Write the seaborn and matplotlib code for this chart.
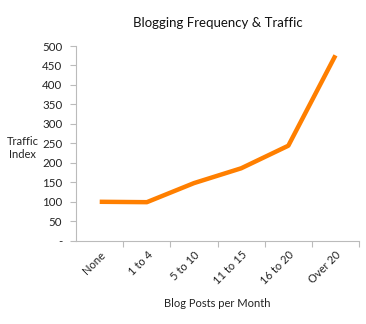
import matplotlib
matplotlib.use("Agg")
import matplotlib.pyplot as plt
from matplotlib.ticker import FixedLocator, FuncFormatter
import seaborn as sns
import pandas as pd

categories = ["None", "1 to 4", "5 to 10", "11 to 15", "16 to 20", "Over 20"]
traffic = [100, 99, 148, 186, 244, 476]
y_ticks = [0, 50, 100, 150, 200, 250, 300, 350, 400, 450, 500]

sns.set_theme(style="white")
plt.rcParams["font.family"] = ["Lato", "DejaVu Sans"]

df = pd.DataFrame({"posts": categories, "traffic": traffic})

fig = plt.figure(figsize=(3.66, 3.24), dpi=100)
ax = fig.add_axes([0.208, 0.257, 0.773, 0.601])

sns.lineplot(data=df, x="posts", y="traffic", ax=ax, color="#FF7F00",
             linewidth=3.2, sort=False, solid_capstyle="butt")

ax.set_xlim(-0.5, len(categories) - 0.5)
ax.set_ylim(0, 500)
ax.set_yticks(y_ticks)
ax.yaxis.set_major_formatter(FuncFormatter(lambda v, p: "-" if v == 0 else f"{int(v)}"))

ax.set_xticks(range(len(categories)))
ax.set_xticklabels(categories, rotation=45, ha="right", rotation_mode="anchor")
ax.xaxis.set_minor_locator(FixedLocator([i + 0.5 for i in range(len(categories))]))
ax.tick_params(axis="x", which="major", length=0, pad=6, labelsize=8, colors="#222222")
ax.tick_params(axis="x", which="minor", length=4, width=0.8, color="#BBBBBB", bottom=True)
ax.tick_params(axis="y", which="major", length=4, width=0.8, color="#BBBBBB",
               left=True, pad=6, labelsize=8.3, labelcolor="#222222")

for side in ["top", "right"]:
    ax.spines[side].set_visible(False)
for side in ["left", "bottom"]:
    ax.spines[side].set_color("#BBBBBB")
    ax.spines[side].set_linewidth(0.8)

ax.set_xlabel("Blog Posts per Month", fontsize=8, color="#222222", labelpad=8)
ax.set_ylabel("Traffic\nIndex", fontsize=8, color="#222222", rotation=0,
              ha="center", va="center")
ax.yaxis.set_label_coords(-0.19, 0.476)
ax.set_title("Blogging Frequency & Traffic", fontsize=9.5, color="#111111", pad=14)

fig.savefig("out.png", dpi=100)
